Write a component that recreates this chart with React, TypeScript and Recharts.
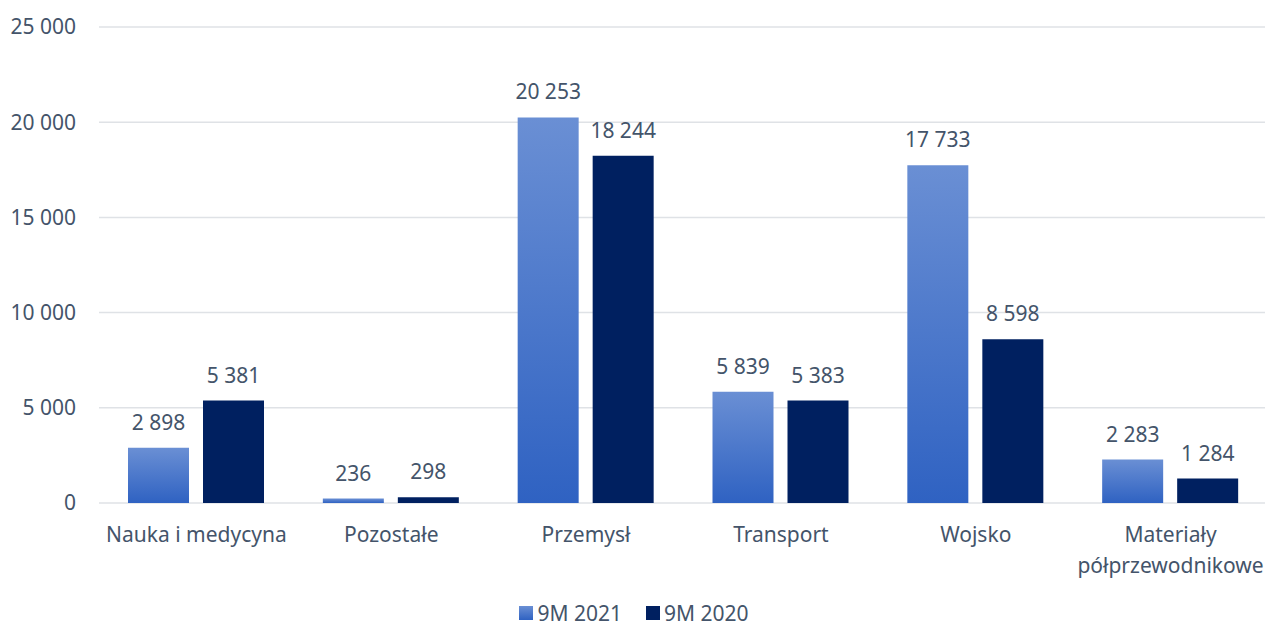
import { BarChart, Bar, XAxis, YAxis, CartesianGrid, Legend, LabelList } from 'recharts'

const categories = ['Nauka i medycyna', 'Pozostałe', 'Przemysł', 'Transport', 'Wojsko', 'Materiały półprzewodnikowe']
const values2021 = [2898, 236, 20253, 5839, 17733, 2283]
const values2020 = [5381, 298, 18244, 5383, 8598, 1284]
const yTicks = [0, 5000, 10000, 15000, 20000, 25000]

const TEXT = '#44546A'
const FONT = '"Noto Sans", sans-serif'
const SIZE = 21

const data = categories.map((name, i) => ({ name, y2021: values2021[i], y2020: values2020[i] }))

const fmt = (v: number) => String(v).replace(/\B(?=(\d{3})+(?!\d))/g, ' ')

const CategoryTick = (props: any) => {
  const { x, y, payload } = props
  const text: string = payload.value
  const lines = text.length > 18 ? text.split(' ') : [text]
  return (
    <text x={x} y={y} textAnchor="middle" fill={TEXT} fontSize={SIZE} fontFamily={FONT}>
      {lines.map((l, i) => (
        <tspan key={i} x={x} dy={31}>
          {l}
        </tspan>
      ))}
    </text>
  )
}

const LegendContent = () => (
  <div style={{ display: 'flex', justifyContent: 'center', gap: 24, paddingTop: 19, height: 27, fontFamily: FONT, fontSize: SIZE, color: TEXT, lineHeight: '26px' }}>
    {[
      { label: '9M 2021', fill: 'linear-gradient(#6a8fd4, #2f62c2)' },
      { label: '9M 2020', fill: '#002060' },
    ].map((it) => (
      <div key={it.label} style={{ display: 'flex', alignItems: 'center', gap: 4 }}>
        <span style={{ width: 14, height: 14, background: it.fill, display: 'inline-block' }} />
        <span>{it.label}</span>
      </div>
    ))}
  </div>
)

export default function App() {
  return (
    <div style={{ position: 'absolute', left: 0, top: 0, width: 1265, height: 626, overflow: 'hidden', background: '#fff' }}>
      <BarChart
        width={1268}
        height={626}
        data={data}
        margin={{ top: 27, right: 0, bottom: 0, left: 0 }}
        barCategoryGap={29}
        barGap={14}
      >
        <defs>
          <linearGradient id="g2021" x1="0" y1="0" x2="0" y2="1">
            <stop offset="0%" stopColor="#6a8fd4" />
            <stop offset="100%" stopColor="#2f62c2" />
          </linearGradient>
        </defs>
        <CartesianGrid vertical={false} stroke="#dfe2e6" strokeWidth={1.5} />
        <XAxis
          dataKey="name"
          axisLine={false}
          tickLine={false}
          height={77}
          interval={0}
          tick={<CategoryTick />}
        />
        <YAxis
          width={99}
          domain={[0, 25000]}
          ticks={yTicks}
          axisLine={false}
          tickLine={false}
          tickSize={0}
          tickMargin={23}
          tickFormatter={fmt}
          tick={{ fill: TEXT, fontSize: SIZE, fontFamily: FONT }}
        />
        <Legend verticalAlign="bottom" height={46} content={<LegendContent />} />
        <Bar dataKey="y2021" name="9M 2021" fill="url(#g2021)" isAnimationActive={false}>
          <LabelList dataKey="y2021" position="top" offset={18} formatter={(v: any) => fmt(Number(v))} fill={TEXT} fontSize={SIZE} fontFamily={FONT} />
        </Bar>
        <Bar dataKey="y2020" name="9M 2020" fill="#002060" isAnimationActive={false}>
          <LabelList dataKey="y2020" position="top" offset={18} formatter={(v: any) => fmt(Number(v))} fill={TEXT} fontSize={SIZE} fontFamily={FONT} />
        </Bar>
      </BarChart>
    </div>
  )
}
